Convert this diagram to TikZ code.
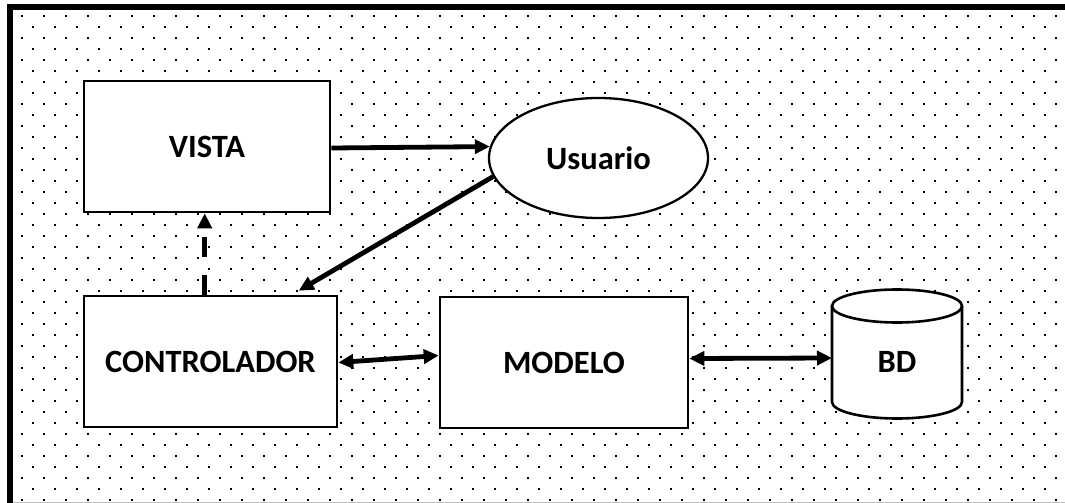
\documentclass[tikz,border=0pt]{standalone}
\usepackage{fontspec}
\setmainfont{Carlito}
\usetikzlibrary{arrows.meta,calc,shapes.geometric}
\begin{document}
\begin{tikzpicture}[x=1pt,y=-1pt,
  lbl/.style={font=\fontsize{32.5}{38}\selectfont\bfseries},
  box/.style={lbl, draw, line width=2.6pt, fill=white, inner sep=0pt},
  tip/.style={},
  conn/.style={line width=4.8pt, -{Triangle[length=15pt,width=14pt]}},
  biconn/.style={line width=4.8pt, {Triangle[length=15pt,width=14pt]}-{Triangle[length=15pt,width=14pt]}},
  dashconn/.style={conn, dash pattern=on 20pt off 18pt}]
\useasboundingbox (0,0) rectangle (1065,503);
\fill[white] (0,0) rectangle (1065,503);
% dotted background
\foreach \m in {0,...,22}{
  \foreach \k in {1,...,48}{
    \fill (22*\k-1.3,16+22*\m-1.3) rectangle ++(2.6,2.6);
  }
}
\foreach \m in {0,...,21}{
  \foreach \k in {0,...,48}{
    \fill (11+22*\k-1.3,27+22*\m-1.3) rectangle ++(2.6,2.6);
  }
}
% frame
\draw[gray!50, line width=1pt] (7,502.5) -- (1065,502.5);
\fill (7,4.5) rectangle (1065,10.5);
\fill (7,4.5) rectangle (12.5,503);
% nodes
\node[box, minimum width=246pt, minimum height=131pt] (vista) at (207,146.5) {VISTA};
\node[box, minimum width=253pt, minimum height=131pt] (ctrl) at (210.5,361.5) {CONTROLADOR};
\node[box, minimum width=248pt, minimum height=131pt] (modelo) at (564,362.5) {MODELO};
\node[box, ellipse, line width=2.3pt, minimum width=219pt, minimum height=120pt] (usuario) at (598.5,158) {Usuario};
% cylinder BD
\draw[line width=2.6pt, fill=white] (832,306) -- (832,402)
  .. controls (832,411.1) and (861.1,418.5) .. (897,418.5)
  .. controls (932.9,418.5) and (962,411.1) .. (962,402) -- (962,306);
\draw[line width=2.6pt, fill=white] (897,306) ellipse [x radius=65pt, y radius=16.5pt];
\node[lbl, inner sep=0pt] (bd) at (897,362) {BD};
% connectors
\draw[conn] ($(vista.east)+(0,1.5)$) -- (usuario.174.7);
\draw[conn] (usuario.190.2) -- ($(ctrl.north west)+(216,-4)$);
\draw[dashconn] ($(ctrl.north west)+(122,0)$) -- ($(vista.south west)+(122,0)$);
\draw[biconn] ($(ctrl.east)+(0,1)$) -- ($(modelo.west)+(0,-7)$);
\draw[biconn] ($(modelo.east)+(0,-4)$) -- ($(bd.center)+(-65,-4)$);
\end{tikzpicture}
\end{document}
